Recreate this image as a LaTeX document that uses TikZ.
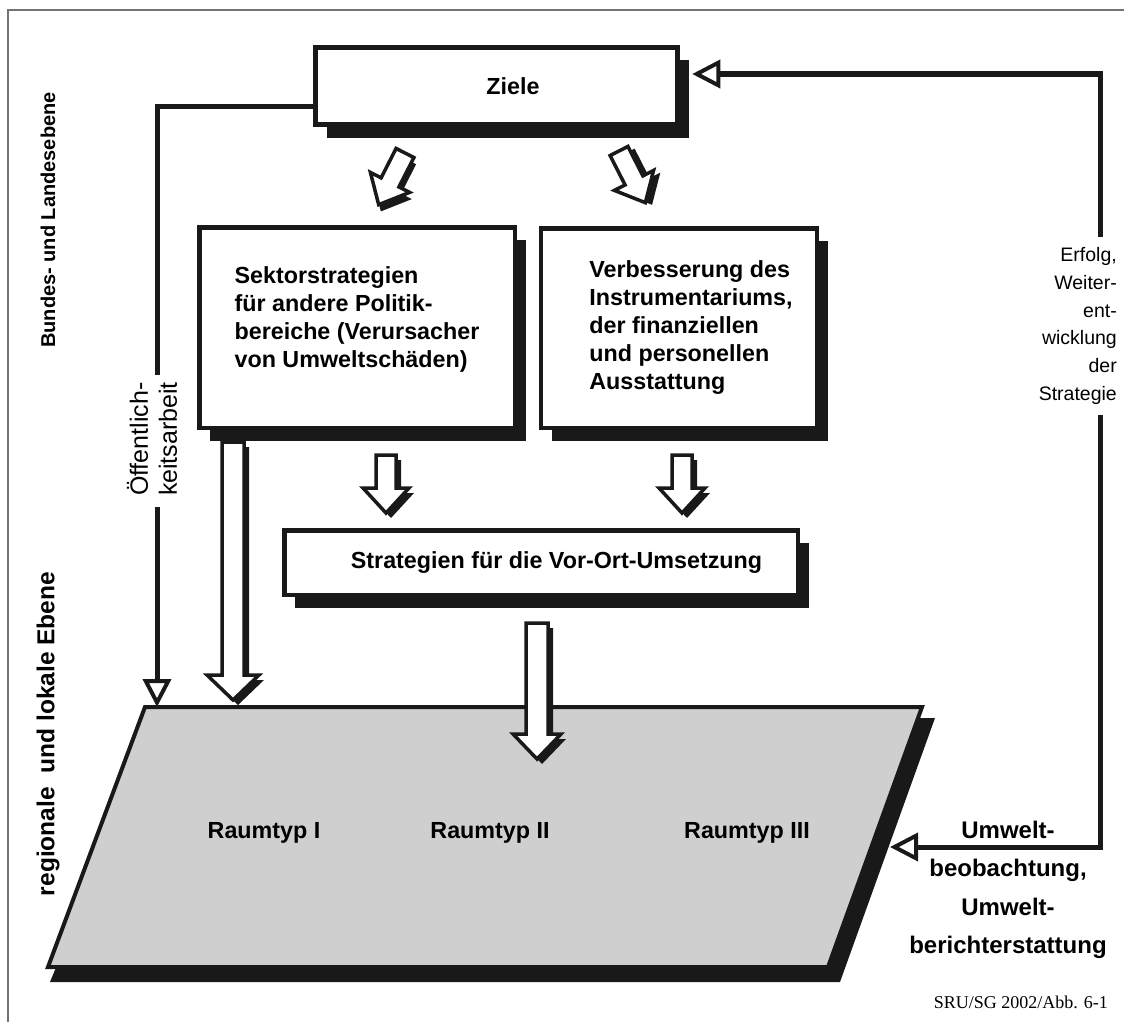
\documentclass[tikz,border=0pt]{standalone}
\usepackage{fontspec}
\setmainfont{Liberation Sans}
\newfontfamily\quellfont{Liberation Serif}
\usetikzlibrary{arrows.meta,shadows}

\tikzset{
  box/.style={draw=black!90, line width=4.5pt, fill=white, inner sep=0pt, align=left,
    drop shadow={shadow xshift=11pt, shadow yshift=-13pt, fill=black!90, opacity=1},
    font=\bfseries\fontsize{23.3}{28}\selectfont},
  loopline/.style={draw=black!90, line width=5pt},
  opentip/.style={-{Triangle[open, length=28pt, width=28pt, line width=4pt]}},
  pics/hollowarrow/.style n args={3}{code={
    \fill[black!90] (-#2+5,5) -- (#2+5,5) -- (#2+5,#1-20) -- (#3+5,#1-20) -- (5,#1+5)
      -- (-#3+5,#1-20) -- (-#2+5,#1-20) -- cycle;
    \filldraw[fill=white, draw=black!90, line width=3.5pt] (-#2,0) -- (#2,0) -- (#2,#1-25)
      -- (#3,#1-25) -- (0,#1) -- (-#3,#1-25) -- (-#2,#1-25) -- cycle;
  }}
}

\begin{document}
\begin{tikzpicture}[x=1pt, y=-1pt]
\useasboundingbox (0,0) rectangle (1124,1025);
\draw[black!55, line width=1.5pt] (8,1022) -- (8,10) -- (1124,10);

\coordinate (p1) at (145,707);
\coordinate (p2) at (922,707);
\coordinate (p3) at (828,967);
\coordinate (p4) at (48,967);
\fill[black!90] (158,720) -- (935,718) -- (840,982) -- (50,982) -- cycle;
\filldraw[fill=black!19, draw=black!90, line width=4pt] (p1) -- (p2) -- (p3) -- (p4) -- cycle;

\node[box, minimum width=362pt, minimum height=77pt] (Ziele) at (496.5,86) {\hspace*{33pt}Ziele};
\node[box, minimum width=315.5pt, minimum height=200.5pt, text depth=21pt] (Sektor) at (357,327.5)
  {Sektorstrategien\\für andere Politik-\\bereiche (Verursacher\\von Umweltschäden)};
\node[box, minimum width=276pt, minimum height=199.5pt] (Instr) at (679,328)
  {\begin{tabular}{@{\hspace{24pt}}l@{}}Verbesserung des\\Instrumentariums,\\der finanziellen\\und personellen\\Ausstattung\end{tabular}};
\node[box, minimum width=513.5pt, minimum height=64.5pt] (VorOrt) at (541,562.5)
  {\hspace*{31pt}Strategien für die Vor-Ort-Umsetzung};

\pic[rotate=-27] at (405,153) {hollowarrow={58}{10}{22}};
\pic[rotate=27] at (619,151) {hollowarrow={58}{10}{22}};
\pic at (386,455) {hollowarrow={58}{10}{23}};
\pic at (682,455) {hollowarrow={58}{10}{23}};
\pic at (233,442) {hollowarrow={258}{11}{26}};
\pic at (537,623) {hollowarrow={136}{11}{24}};

\node[font=\bfseries\fontsize{23.3}{28}\selectfont] (raum1) at (264,833) {Raumtyp I};
\node[font=\bfseries\fontsize{23.3}{28}\selectfont] (raum2) at (490,833) {Raumtyp II};
\node[font=\bfseries\fontsize{23.3}{28}\selectfont] (raum3) at (747,833) {Raumtyp III};

\node[rotate=90, font=\bfseries\fontsize{20}{24}\selectfont] (bund) at (48,220) {Bundes- und Landesebene};
\node[rotate=90, font=\bfseries\fontsize{24.5}{28}\selectfont] (region) at (48,734) {regionale\ \ und lokale Ebene};
\node[rotate=90, align=left, inner sep=0pt, font=\fontsize{25}{29}\selectfont] (oeff) at (152,439) {Öffentlich-\\keitsarbeit};
\node[anchor=east, align=right, inner sep=0pt, font=\fontsize{19.5}{27.8}\selectfont] (erfolg) at (1117,326)
  {Erfolg,\\Weiter-\\ent-\\wicklung\\der\\Strategie};
\node[align=center, inner sep=0pt, font=\bfseries\fontsize{24}{38.5}\selectfont] (umwelt) at (1008,890)
  {Umwelt-\\beobachtung,\\Umwelt-\\berichterstattung};
\node[anchor=east, inner sep=0pt, font=\quellfont\fontsize{18}{22}\selectfont] (quelle) at (1108,1002) {SRU/SG 2002/Abb. 6-1};

\coordinate (oeffTop) at (157,375);
\coordinate (oeffBot) at (157,507);
\coordinate (rTop) at (1100,237);
\coordinate (rBot) at (1100,415);
\coordinate (feedIn) at (890,847);
\draw[loopline] (Ziele.west) ++(0,20) -| (oeffTop);
\draw[loopline, opentip] (oeffBot) -- (oeffBot |- p1);
\draw[loopline, opentip] (rTop) |- ([xshift=12.5pt, yshift=12pt]Ziele.east);
\draw[loopline, opentip] (rBot) |- (feedIn);
\end{tikzpicture}
\end{document}
